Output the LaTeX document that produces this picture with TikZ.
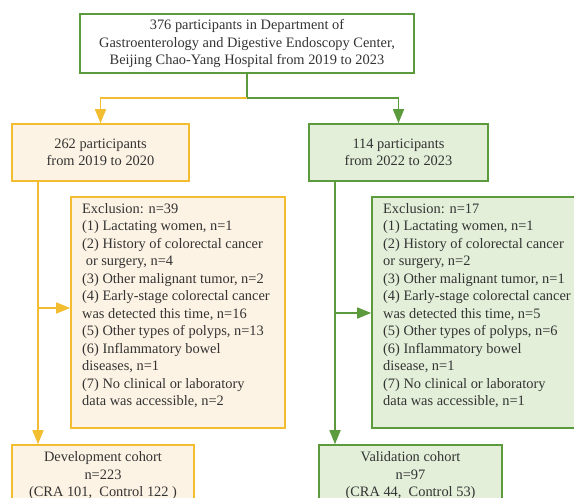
\documentclass[tikz,border=0pt]{standalone}
\usepackage{fontspec}
\setmainfont{Liberation Serif}
\usepackage{xcolor}
\usetikzlibrary{arrows.meta}
\definecolor{yelline}{HTML}{F2BD30}
\definecolor{yelfill}{HTML}{FDF3E4}
\definecolor{grnline}{HTML}{5C9A3E}
\definecolor{grnfill}{HTML}{E3EFD9}
\definecolor{txtgray}{HTML}{333333}
\tikzset{
  ybox/.style={draw=yelline, fill=yelfill, line width=1.6pt, align=center, inner sep=0pt},
  gbox/.style={draw=grnline, fill=grnfill, line width=1.6pt, align=center, inner sep=0pt},
  tbox/.style={draw=grnline, fill=white, line width=1.6pt, align=center, inner sep=0pt},
  exltext/.style={anchor=north west, align=left, inner sep=0pt},
  yarrow/.style={draw=yelline, line width=1.6pt, -{Triangle[length=14pt,width=11pt]}},
  garrow/.style={draw=grnline, line width=1.6pt, -{Triangle[length=14pt,width=11pt]}},
  gline/.style={draw=grnline, line width=1.6pt},
  yline/.style={draw=yelline, line width=1.6pt},
}
\begin{document}
\begin{tikzpicture}[x=1pt, y=-1pt, font=\fontsize{14.4}{17.5}\selectfont, text=txtgray]
\useasboundingbox (0,0) rectangle (574,498);
\clip (0,0) rectangle (574,498);
\def\trunkleft{38}
\def\trunkright{335}

% TOP BOX
\node[tbox, minimum width=334pt, minimum height=59pt] (all) at (247,43.5)
  {376 participants in Department of\\Gastroenterology and Digestive Endoscopy Center,\\Beijing Chao-Yang Hospital from 2019 to 2023};
\coordinate (split) at (247,98);

\begin{scope} % LEFT BRANCH
\node[ybox, minimum width=177pt, minimum height=57pt] (dev0) at (100.5,152.5)
  {262 participants\\from 2019 to 2020};
\node[ybox, minimum width=214pt, minimum height=231pt] (exdev) at (178,312.5) {};
\node[exltext] (exdevtxt) at (82,203) {Exclusion: n=39\\(1) Lactating women, n=1\\(2) History of colorectal cancer\\\ or surgery, n=4\\(3) Other malignant tumor, n=2\\(4) Early-stage colorectal cancer\\was detected this time, n=16\\(5) Other types of polyps, n=13\\(6) Inflammatory bowel\\diseases, n=1\\(7) No clinical or laboratory\\data was accessible, n=2};
\node[ybox, minimum width=182pt, minimum height=62pt] (dev) at (103,476)
  {Development cohort\\n=223\\(CRA 101,\ \ Control 122 )};
\coordinate (ldrop) at (\trunkleft,308);
\end{scope}

\begin{scope} % RIGHT BRANCH
\node[gbox, minimum width=179pt, minimum height=57pt] (val0) at (398.5,152.5)
  {114 participants\\from 2022 to 2023};
\node[gbox, minimum width=215pt, minimum height=231pt] (exval) at (479.5,312.5) {};
\node[exltext] (exvaltxt) at (383,203) {Exclusion: n=17\\(1) Lactating women, n=1\\(2) History of colorectal cancer\\or surgery, n=2\\(3) Other malignant tumor, n=1\\(4) Early-stage colorectal cancer\\was detected this time, n=5\\(5) Other types of polyps, n=6\\(6) Inflammatory bowel\\disease, n=1\\(7) No clinical or laboratory\\data was accessible, n=1};
\node[gbox, minimum width=183pt, minimum height=62pt] (val) at (410.5,476)
  {Validation cohort\\n=97\\(CRA 44,\ \ Control 53)};
\coordinate (rdrop) at (\trunkright,313);
\end{scope}

% CONNECTORS
\draw[gline] (all.south) -- (split);
\draw[yarrow] (split) -| (dev0.north);
\draw[garrow] (split) -| (val0.north);
\draw[yarrow] (dev0.south -| ldrop) -- (dev.north -| ldrop);
\draw[yarrow] (ldrop) -- (ldrop -| exdev.west);
\draw[garrow] (val0.south -| rdrop) -- (val.north -| rdrop);
\draw[garrow] (rdrop) -- (rdrop -| exval.west);
\end{tikzpicture}
\end{document}
